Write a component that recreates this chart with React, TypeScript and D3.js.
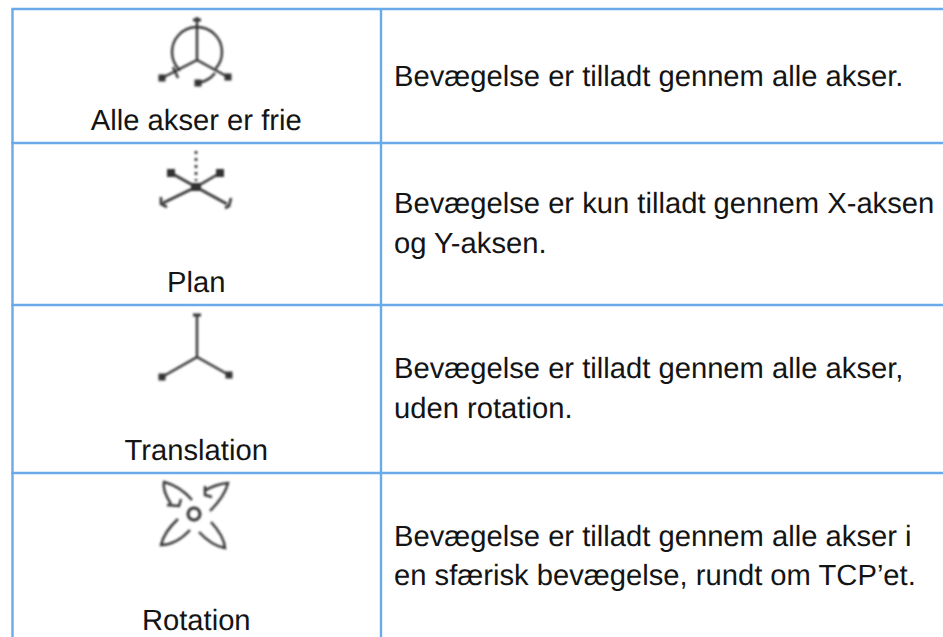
import React from "react";
import * as d3 from "d3";

const labels = ["Alle akser er frie", "Plan", "Translation", "Rotation"];
const descriptions = [
  ["Bevægelse er tilladt gennem alle akser."],
  ["Bevægelse er kun tilladt gennem X-aksen", "og Y-aksen."],
  ["Bevægelse er tilladt gennem alle akser,", "uden rotation."],
  ["Bevægelse er tilladt gennem alle akser i", "en sfærisk bevægelse, rundt om TCP’et."],
];
const rowEdges = [9, 143, 305, 473];
const columnEdges = [12.5, 381];
const labelBaselines = [130, 292, 460, 630];
const textBaselines = [[86], [213, 253], [378, 418], [546, 585]];
const iconCentres = [
  [197, 60],
  [196, 187],
  [197, 357],
  [194, 514],
];

const BORDER = "#6aaae9";
const TEXT = "#141414";
const ICON = "#333333";
const FONT = "'Liberation Sans', sans-serif";

const poly = (pts: number[][]) => d3.line()(pts as [number, number][]) ?? "";

// small square arrow tip
const Tip = ({ x, y, s = 3.5 }: { x: number; y: number; s?: number }) => (
  <rect x={x - s} y={y - s} width={s * 2} height={s * 2} fill={ICON} stroke="none" />
);

const arc = (r: number, a0: number, a1: number) =>
  d3.arc()({ innerRadius: r, outerRadius: r, startAngle: a0, endAngle: a1 } as any) ?? "";

const IconAll = () => (
  <g fill="none" stroke={ICON} strokeWidth={2.4}>
    <path d={poly([[0, -43], [0, 0], [-35, 18]])} />
    <path d={poly([[0, 0], [31, 17]])} />
    <path d={poly([[-4, -40], [4, -40]])} strokeWidth={3} />
    <g transform="translate(0,-8)">
      <path d={arc(25, -2.4, 2.3)} />
    </g>
    <path d="M18,13 Q12,21 1,23" />
    <path d="M-24,7 L-19,18" />
    <Tip x={-35} y={18} />
    <Tip x={31} y={17} />
    <Tip x={1} y={23} />
  </g>
);

const IconPlane = () => (
  <g fill="none" stroke={ICON} strokeWidth={2.6}>
    <path d={poly([[0, -36], [0, -6]])} strokeDasharray="3 4" />
    <path d={poly([[-25, -14], [0, 0], [24, -14]])} />
    <path d={poly([[-33, 16], [0, 0], [31, 17]])} />
    <rect x={-5} y={-4} width={10} height={8} fill={ICON} stroke="none" />
    <Tip x={-25} y={-14} s={4} />
    <Tip x={24} y={-14} s={4} />
    <path d={poly([[-35, 10], [-35, 17], [-29, 20]])} />
    <path d={poly([[35, 11], [33, 19], [29, 21]])} />
  </g>
);

const IconTranslation = () => (
  <g fill="none" stroke={ICON} strokeWidth={2.4}>
    <path d={poly([[0, -42], [0, 0], [-35, 20]])} />
    <path d={poly([[0, 0], [32, 18]])} />
    <path d={poly([[-4, -42], [4, -42]])} strokeWidth={3} />
    <Tip x={-35} y={20} />
    <Tip x={32} y={18} />
  </g>
);

const IconRotation = () => (
  <g fill="none" stroke={ICON} strokeWidth={2.4}>
    <circle r={6} strokeWidth={3} />
    <path d="M-2,-14 Q-14,-28 -30,-32 Q-32,-24 -23,-10" />
    <path d="M-27,-9 L-15,-8 L-13,-15" />
    <path d="M16,-3 Q31,-18 34,-31 Q22,-30 10,-23" />
    <path d="M11,-28 L11,-19 L18,-17" />
    <path d="M-16,5 Q-30,18 -33,31 Q-18,31 -4,16" />
    <path d="M17,8 Q30,22 31,34 Q18,32 5,18" />
  </g>
);

const icons = [IconAll, IconPlane, IconTranslation, IconRotation];

export default function App() {
  const rowScale = d3.scaleOrdinal<number, number>().domain(d3.range(rowEdges.length)).range(rowEdges);
  const colScale = d3.scaleOrdinal<number, number>().domain(d3.range(columnEdges.length)).range(columnEdges);
  const labelX = (colScale(0) + colScale(1)) / 2 - 0.5;

  return (
    <svg
      width={943}
      height={637}
      style={{ position: "absolute", left: 0, top: 0, background: "#fff" }}
    >
      <defs>
        <filter id="soft" x="-20%" y="-20%" width="140%" height="140%">
          <feGaussianBlur stdDeviation={0.9} />
        </filter>
      </defs>

      {/* table borders, no right edge in the reference */}
      <g stroke={BORDER} strokeWidth={2.4}>
        {rowEdges.map((_, i) => (
          <line key={i} x1={colScale(0) - 1.2} x2={943} y1={rowScale(i)} y2={rowScale(i)} />
        ))}
        {columnEdges.map((_, i) => (
          <line key={i} x1={colScale(i)} x2={colScale(i)} y1={rowScale(0)} y2={637} />
        ))}
      </g>

      {icons.map((Icon, i) => (
        <g
          key={i}
          transform={`translate(${iconCentres[i][0]},${iconCentres[i][1]})`}
          filter="url(#soft)"
        >
          <Icon />
        </g>
      ))}

      <g fontFamily={FONT} fontSize={29.2} fill={TEXT} textRendering="geometricPrecision">
        {labels.map((t, i) => (
          <text key={t} x={labelX} y={labelBaselines[i]} textAnchor="middle">
            {t}
          </text>
        ))}
        {descriptions.map((lines, i) =>
          lines.map((t, j) => (
            <text key={t} x={394} y={textBaselines[i][j]}>
              {t}
            </text>
          ))
        )}
      </g>
    </svg>
  );
}
